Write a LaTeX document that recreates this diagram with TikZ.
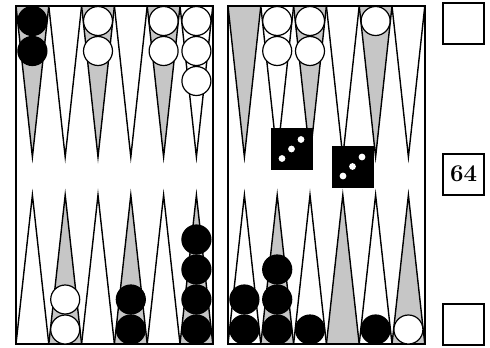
\documentclass[tikz,border=0pt]{standalone}
\usepackage{tikz}
\usetikzlibrary{positioning}
\begin{document}
\begin{tikzpicture}[x=0.5pt,y=-0.5pt,
  pointfill/.style={draw=black,line width=0.7pt,fill=#1},
  checker/.style={circle,draw=black,line width=0.6pt,fill=#1,minimum size=14.5pt,inner sep=0pt},
  die/.style={fill=black,minimum size=21pt,inner sep=0pt},
  cube/.style={draw=black,line width=1pt,fill=white,minimum size=20.5pt,inner sep=0pt,font=\fontsize{12}{14}\selectfont\bfseries}]
\useasboundingbox (0,0) rectangle (490,347);
% points of both halves
\foreach \x in {16,228} \foreach \i in {0,...,5} {
  \pgfmathsetmacro\a{\x+\i*32.8}
  \pgfmathsetmacro\b{\a+32.8}
  \pgfmathsetmacro\m{\a+16.4}
  \ifodd\i
    \filldraw[pointfill=white] (\a,6) -- (\m,157) -- (\b,6) -- cycle;
    \filldraw[pointfill=gray!45] (\a,344) -- (\m,195) -- (\b,344) -- cycle;
  \else
    \filldraw[pointfill=gray!45] (\a,6) -- (\m,157) -- (\b,6) -- cycle;
    \filldraw[pointfill=white] (\a,344) -- (\m,195) -- (\b,344) -- cycle;
  \fi
}
\draw[line width=1pt] (16,6) rectangle (212.8,344);
\draw[line width=1pt] (228,6) rectangle (424.8,344);
% checkers: half/point/colour/count, top row
\foreach \x/\i/\c/\n in {16/0/black/2,16/2/white/2,16/4/white/2,16/5/white/3,
    228/1/white/2,228/2/white/2,228/4/white/1}
  \foreach \k in {1,...,\n}
    \node[checker=\c] (t\x-\i-\k) at ({\x+16.4+\i*32.8},{21+(\k-1)*30}) {};
% bottom row
\foreach \x/\i/\c/\n in {16/1/white/2,16/3/black/2,16/5/black/4,
    228/0/black/2,228/1/black/3,228/2/black/1,228/4/black/1,228/5/white/1}
  \foreach \k in {1,...,\n}
    \node[checker=\c] (b\x-\i-\k) at ({\x+16.4+\i*32.8},{329.5-(\k-1)*30}) {};
% dice
\node[die] (die1) at (291.5,149) {};
\node[die] (die2) at (352.5,166.5) {};
\foreach \d in {die1,die2} {
  \fill[white] ([shift={(9.5,-9.5)}]\d.center) circle (3.4);
  \fill[white] (\d.center) circle (3.4);
  \fill[white] ([shift={(-9.5,9.5)}]\d.center) circle (3.4);
}
% doubling cube positions
\node[cube] (cubetop) at (463.5,24) {};
\node[cube] (cubemid) at (463.5,174) {64};
\node[cube] (cubebot) at (463.5,324.5) {};
\end{tikzpicture}
\end{document}
